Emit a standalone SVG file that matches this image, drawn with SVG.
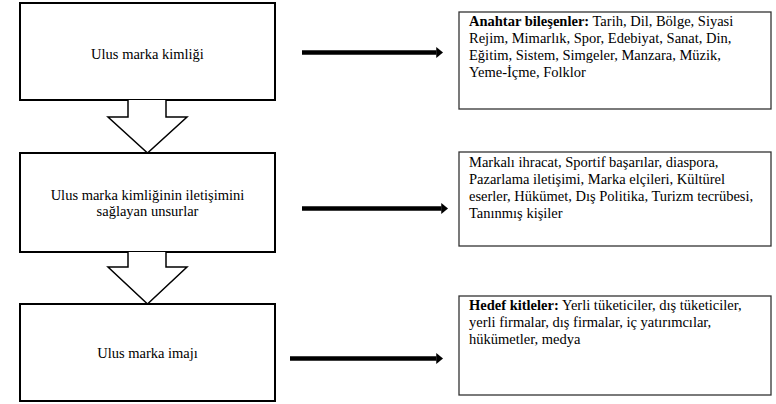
<svg xmlns="http://www.w3.org/2000/svg" width="776" height="404" viewBox="0 0 776 404">
<style>
.box{fill:#fff;stroke:#000;stroke-width:2}
.rbox{fill:#fff;stroke:#333;stroke-width:1.3}
.blk{fill:#fff;stroke:#000;stroke-width:1.5;stroke-linejoin:miter}
.t{font-family:"Liberation Serif","Times New Roman","DejaVu Serif",serif;font-size:14.5px;fill:#000}
.c{text-anchor:middle}
.b{font-weight:bold}
.arr{stroke:#000;stroke-width:4.5;fill:none}
</style>
<defs>
<marker id="ah" markerWidth="2" markerHeight="2.4" refX="0.05" refY="1.2" orient="auto" markerUnits="strokeWidth">
<path d="M0,0 L1.5,1.2 L0,2.4 Z" fill="#000"/>
</marker>
</defs>
<g id="node-identity">
<rect class="box" x="20" y="3" width="255" height="97"/>
<text class="t c" x="147.5" y="59">Ulus marka kimliği</text>
</g>
<g id="node-communication">
<rect class="box" x="20" y="153" width="255" height="99"/>
<text class="t c" x="147.5" y="200">Ulus marka kimliğinin iletişimini</text>
<text class="t c" x="147.5" y="216">sağlayan unsurlar</text>
</g>
<g id="node-image">
<rect class="box" x="20" y="304" width="255" height="97"/>
<text class="t c" x="147.5" y="358">Ulus marka imajı</text>
</g>
<g id="node-components">
<rect class="rbox" x="459" y="12" width="312" height="97"/>
<text class="t" x="469" y="26"><tspan class="b">Anahtar bileşenler:</tspan> Tarih, Dil, Bölge, Siyasi</text>
<text class="t" x="469" y="43">Rejim, Mimarlık, Spor, Edebiyat, Sanat, Din,</text>
<text class="t" x="469" y="60">Eğitim, Sistem, Simgeler, Manzara, Müzik,</text>
<text class="t" x="469" y="77">Yeme-İçme, Folklor</text>
</g>
<g id="node-channels">
<rect class="rbox" x="459" y="152" width="312" height="94"/>
<text class="t" x="469" y="167">Markalı ihracat, Sportif başarılar, diaspora,</text>
<text class="t" x="469" y="184">Pazarlama iletişimi, Marka elçileri, Kültürel</text>
<text class="t" x="469" y="201">eserler, Hükümet, Dış Politika, Turizm tecrübesi,</text>
<text class="t" x="469" y="218">Tanınmış kişiler</text>
</g>
<g id="node-audiences">
<rect class="rbox" x="459" y="296" width="312" height="99"/>
<text class="t" x="469" y="310"><tspan class="b">Hedef kitleler:</tspan> Yerli tüketiciler, dış tüketiciler,</text>
<text class="t" x="469" y="327">yerli firmalar, dış firmalar, iç yatırımcılar,</text>
<text class="t" x="469" y="344">hükümetler, medya</text>
</g>
<g id="connectors">
<path class="blk" d="M128,100 V117 H108 L147.5,153 L187,117 H166 V100"/>
<path class="blk" d="M128,252 V267 H108 L147.5,304 L187,267 H166 V252"/>
<line class="arr" x1="302" y1="52.5" x2="436.5" y2="52.5" marker-end="url(#ah)"/>
<line class="arr" x1="302" y1="208.5" x2="441.5" y2="208.5" marker-end="url(#ah)"/>
<line class="arr" x1="290" y1="358.5" x2="436.5" y2="358.5" marker-end="url(#ah)"/>
</g>
</svg>
